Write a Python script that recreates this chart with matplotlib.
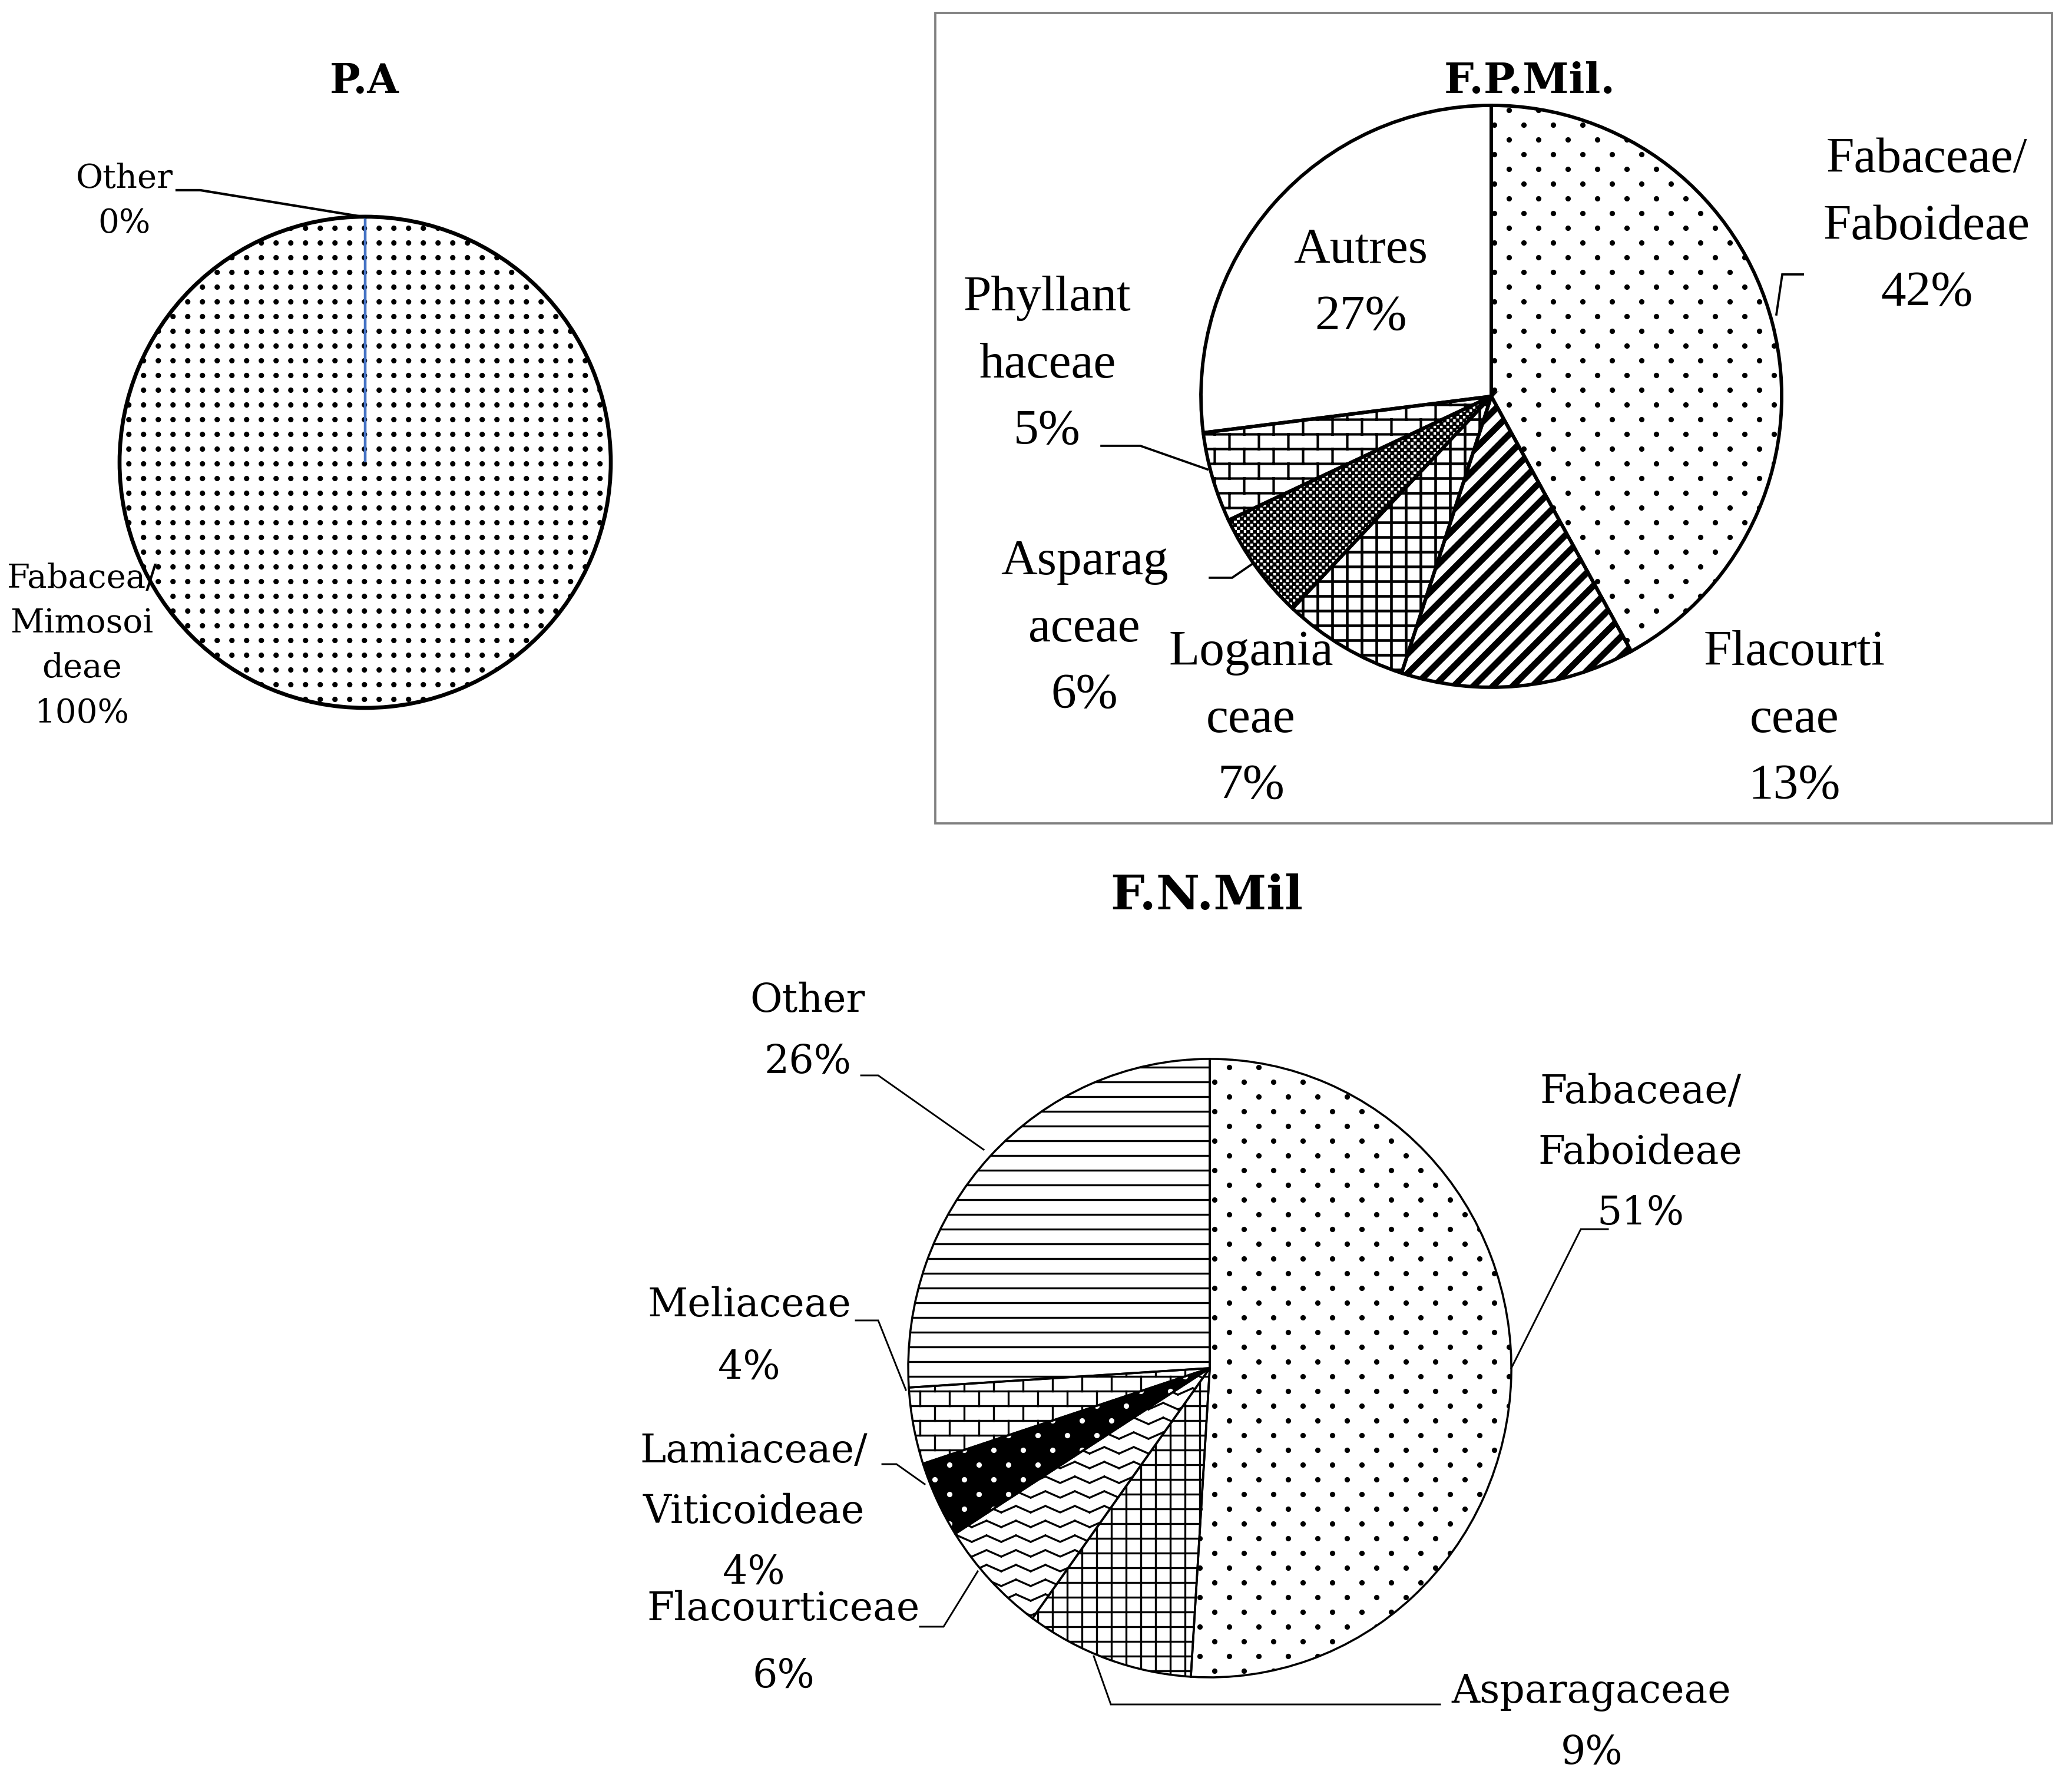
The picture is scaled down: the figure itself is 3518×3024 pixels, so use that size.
import warnings
import numpy as np
import matplotlib
matplotlib.use('Agg')
import matplotlib.pyplot as plt
import matplotlib.hatch as mhatch
from matplotlib.path import Path
from matplotlib.lines import Line2D
from matplotlib.patches import Rectangle

warnings.filterwarnings('ignore')

W, H, DPI = 3518, 3024, 300

# ---- data ----
titles = ['P.A', 'F.P.Mil.', 'F.N.Mil']

pa_names = ['Other', 'Fabacea/\nMimosoi\ndeae']
pa_values = [0, 100]

fp_names = ['Fabaceae/\nFaboideae', 'Flacourti\nceae', 'Logania\nceae',
            'Asparag\naceae', 'Phyllant\nhaceae', 'Autres']
fp_values = [42, 13, 7, 6, 5, 27]

fn_names = ['Fabaceae/\nFaboideae', 'Asparagaceae', 'Flacourticeae',
            'Lamiaceae/\nViticoideae', 'Meliaceae', 'Other']
fn_values = [51, 9, 6, 4, 4, 26]


# ---- custom hatch patterns (unit tile = 1 inch) ----
def _lines(segs):
    v, c = [], []
    for p0, p1 in segs:
        v += [p0, p1]
        c += [Path.MOVETO, Path.LINETO]
    return v, c


def _dots(ncols, nrows, r, stagger):
    v, c = [], []
    t = np.linspace(0, 2 * np.pi, 12, endpoint=False)
    for i in range(nrows):
        shift = 0.5 * (i % 2) if stagger else 0.5
        y = (i + 0.5) / nrows
        for j in range(ncols):
            x = (j + 0.25 + shift) / ncols
            v += list(zip(x + r * np.cos(t), y + r * np.sin(t))) + [(x, y)]
            c += [Path.MOVETO] + [Path.LINETO] * 11 + [Path.CLOSEPOLY]
    return v, c


def _checker(n):
    v, c = [], []
    s = 1.0 / n
    for i in range(n):
        for j in range(n):
            if (i + j) % 2 == 0:
                x, y = j * s, i * s
                v += [(x, y), (x + s, y), (x + s, y + s), (x, y + s), (x, y)]
                c += [Path.MOVETO, Path.LINETO, Path.LINETO, Path.LINETO, Path.CLOSEPOLY]
    return v, c


def _brick(nrows, ncols):
    segs = [((0, (i + 0.5) / nrows), (1, (i + 0.5) / nrows)) for i in range(nrows)]
    for i in range(-1, nrows):
        y0, y1 = (i + 0.5) / nrows, (i + 1.5) / nrows
        for j in range(ncols):
            x = (j + 0.25 + 0.5 * (i % 2)) / ncols
            segs.append(((x, y0), (x, y1)))
    return _lines(segs)


def _zigzag(nrows, nper, amp):
    segs = []
    xs = np.linspace(0, 1, 2 * nper + 1)
    for i in range(nrows):
        ys = (i + 0.5) / nrows + amp / nrows * np.where(np.arange(len(xs)) % 2, 1, -1)
        for k in range(len(xs) - 1):
            segs.append(((xs[k], ys[k]), (xs[k + 1], ys[k + 1])))
    return _lines(segs)


def _stripes(n):
    return _lines([((0, k / n), (1, 1 + k / n)) for k in range(-n, n)])


def _grid(n, vertical=True):
    segs = [((0, (i + 0.5) / n), (1, (i + 0.5) / n)) for i in range(n)]
    if vertical:
        segs += [(((i + 0.5) / n, 0), ((i + 0.5) / n, 1)) for i in range(n)]
    return _lines(segs)


PATTERNS = {
    'g': _dots(12, 12, 4.0 / DPI, False),
    'd': _dots(6, 12, 4.0 / DPI, True),
    's': _stripes(9),
    'q': _grid(12),
    'h': _grid(12, vertical=False),
    'c': _checker(54),
    'b': _brick(12, 6),
    'z': _zigzag(12, 6, 0.22),
}


class CustomHatch(mhatch.HatchPatternBase):
    def __init__(self, hatch, density):
        v, c = [], []
        for ch, (pv, pc) in PATTERNS.items():
            if ch in hatch:
                v += pv
                c += pc
        self.verts = np.array(v, float).reshape(-1, 2)
        self.codes = np.array(c, dtype=Path.code_type)
        self.num_vertices = len(self.codes)

    def set_vertices_and_codes(self, vertices, codes):
        vertices[:] = self.verts
        codes[:] = self.codes


mhatch._hatch_types.append(CustomHatch)
plt.rcParams['hatch.linewidth'] = 1.0
plt.rcParams['font.family'] = 'DejaVu Serif'

fig = plt.figure(figsize=((W + 0.1) / DPI, (H + 0.1) / DPI), dpi=DPI)
fig.patch.set_facecolor('white')


def P(x, y):
    return x / W, 1 - y / H


def pie_axes(cx, cy, rx, ry):
    return fig.add_axes([(cx - rx) / W, 1 - (cy + ry) / H, 2 * rx / W, 2 * ry / H])


def draw_pie(ax, values, faces, hcolors, hatches, hlws, edge_lw):
    fills, _ = ax.pie(values, startangle=90, counterclock=False, radius=1,
                      wedgeprops=dict(linewidth=0, clip_on=False))
    for w, fc, hc, h, hl in zip(fills, faces, hcolors, hatches, hlws):
        w.set_facecolor(fc)
        w.set_edgecolor(hc)
        if h:
            w.set_hatch(h)
        if hasattr(w, 'set_hatch_linewidth'):
            w.set_hatch_linewidth(hl)
    edges, _ = ax.pie(values, startangle=90, counterclock=False, radius=1,
                      wedgeprops=dict(fill=False, edgecolor='black',
                                      linewidth=edge_lw, clip_on=False))
    ax.set_xlim(-1, 1)
    ax.set_ylim(-1, 1)
    ax.set_aspect('auto')
    return edges


def label(x, y, s, size, family, ls=1.2, weight='normal'):
    fig.text(*P(x, y), s, ha='center', va='center', fontsize=size, family=family,
             linespacing=ls, fontweight=weight, multialignment='center')


def leader(pts, lw):
    xs = [p[0] / W for p in pts]
    ys = [1 - p[1] / H for p in pts]
    fig.add_artist(Line2D(xs, ys, color='black', lw=lw, transform=fig.transFigure,
                          solid_joinstyle='miter'))


# ---- P.A ----
ax1 = pie_axes(620, 785, 417, 417)
e1 = draw_pie(ax1, pa_values, ['white', 'white'], ['black', 'black'],
              ['', 'g'], [0.3, 0.3], 1.6)
e1[0].set_edgecolor('#4472C4')
e1[0].set_linewidth(1.1)
e1[0].set_zorder(5)
label(619, 138, titles[0], 16.5, 'DejaVu Serif', weight='bold')
pa_pos = [(211, 342), (139, 1097)]
for (x, y), n, v in zip(pa_pos, pa_names, pa_values):
    label(x, y, f'{n}\n{v}%', 13.5, 'DejaVu Serif', ls=1.5)
leader([(300, 323), (340, 323), (621, 369)], 1.0)

# ---- F.P.Mil. ----
fig.add_artist(Rectangle(P(1588, 1398), (3484 - 1588) / W, (1398 - 22) / H,
                         transform=fig.transFigure, fill=False,
                         edgecolor='#808080', lw=0.9))
ax2 = pie_axes(2532, 673, 493, 494)
draw_pie(ax2, fp_values, ['white'] * 6, ['black'] * 6,
         ['d', 's', 'q', 'c', 'b', ''], [0.3, 2.6, 1.1, 0.3, 1.0, 0.5], 1.4)
label(2597, 138, titles[1], 17, 'DejaVu Serif', weight='bold')
fp_pos = [(3271, 385), (3047, 1222), (2124, 1222), (1841, 1068), (1778, 620), (2310, 482)]
for (x, y), n, v in zip(fp_pos, fp_names, fp_values):
    label(x, y, f'{n}\n{v}%', 20.5, 'Liberation Serif', ls=1.62)
leader([(3061, 466), (3026, 466), (3016, 534)], 0.9)
leader([(2054, 981), (2092, 981), (2127, 957)], 0.9)
leader([(1870, 757), (1936, 757), (2050, 797)], 0.9)

# ---- F.N.Mil ----
ax3 = pie_axes(2054, 2323, 512, 525)
draw_pie(ax3, fn_values, ['white', 'white', 'white', 'black', 'white', 'white'],
         ['black', 'black', 'black', 'white', 'black', 'black'],
         ['d', 'q', 'z', 'd', 'b', 'h'], [0.3, 0.8, 0.8, 0.3, 0.8, 0.8], 0.85)
label(2049, 1522, titles[2], 19.5, 'DejaVu Serif', weight='bold')
fn_pos = [(2785, 1957), (2702, 2925), (1330, 2789), (1280, 2567), (1272, 2269), (1371, 1751)]
fn_ls = [1.73, 1.73, 1.94, 1.73, 1.8, 1.74]
for (x, y), n, v, ls in zip(fn_pos, fn_names, fn_values, fn_ls):
    label(x, y, f'{n}\n{v}%', 16, 'DejaVu Serif', ls=ls)
leader([(2730, 2087), (2684, 2087), (2566, 2323)], 0.7)
leader([(2445, 2894), (1886, 2894), (1857, 2812)], 0.7)
leader([(1562, 2762), (1602, 2762), (1660, 2668)], 0.7)
leader([(1498, 2486), (1522, 2486), (1570, 2520)], 0.7)
leader([(1453, 2242), (1491, 2242), (1538, 2360)], 0.7)
leader([(1462, 1826), (1491, 1826), (1670, 1952)], 0.7)

fig.savefig('out.png', dpi=DPI, facecolor='white')
